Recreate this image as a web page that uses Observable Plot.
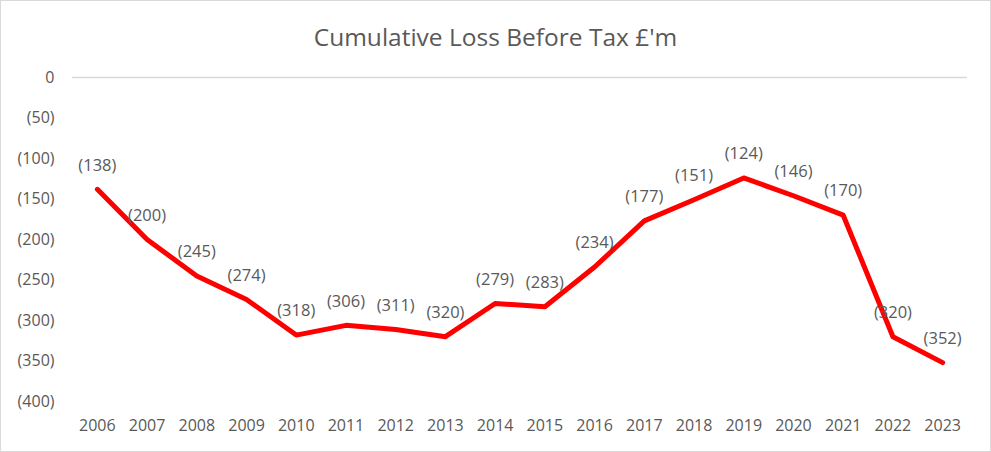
<!DOCTYPE html>
<html>
<head>
<meta charset="utf-8">
<script src="https://cdn.jsdelivr.net/npm/d3@7"></script>
<script src="https://cdn.jsdelivr.net/npm/@observablehq/plot@0.6"></script>
<style>
  html, body { margin: 0; padding: 0; background: #fff; }
  #chart {
    width: 989px; height: 450px;
    border: 1px solid #d9d9d9;
    font-family: "Open Sans", "Noto Sans", sans-serif;
    color: #595959;
    overflow: hidden;
  }
  #title {
    height: 56px; line-height: 72px;
    text-align: center; font-size: 24.5px; color: #595959;
  }
  svg { display: block; }
</style>
</head>
<body>
<div id="chart"><div id="title">Cumulative Loss Before Tax £'m</div></div>
<script>
const years = [2006, 2007, 2008, 2009, 2010, 2011, 2012, 2013, 2014, 2015,
               2016, 2017, 2018, 2019, 2020, 2021, 2022, 2023];
const cumulativeLoss = [138, 200, 245, 274, 318, 306, 311, 320, 279, 283,
                        234, 177, 151, 124, 146, 170, 320, 352];
const yTicks = [0, -50, -100, -150, -200, -250, -300, -350, -400];

const rows = years.map((year, i) => ({year, value: -cumulativeLoss[i]}));
const fmt = v => v === 0 ? "0" : `(${Math.abs(v)})`;

const textColor = "#595959";

const plot = Plot.plot({
  width: 989,
  height: 394,
  marginTop: 20,
  marginBottom: 50,
  marginLeft: 71,
  marginRight: 23,
  style: {fontFamily: "'Open Sans', 'Noto Sans', sans-serif", fontSize: "16px", color: textColor, background: "#fff"},
  // each year sits in the middle of its own category slot
  x: {type: "linear", domain: [years[0] - 0.5, years[years.length - 1] + 0.5]},
  y: {domain: [-400, 0]},
  marks: [
    Plot.ruleY([0], {stroke: "#d9d9d9", strokeWidth: 1.3}),
    Plot.axisY({ticks: yTicks, tickFormat: fmt, tickSize: 0, tickPadding: 18, label: null, fill: textColor, fontSize: 16}),
    Plot.axisX({ticks: years, tickFormat: d => String(d), tickSize: 0, tickPadding: 18, label: null, fill: textColor, fontSize: 16}),
    Plot.line(rows, {x: "year", y: "value", stroke: "#ff0000", strokeWidth: 5, strokeLinejoin: "round", strokeLinecap: "round"}),
    Plot.text(rows, {x: "year", y: "value", text: d => fmt(d.value), dy: -24, fill: textColor, fontSize: 16.5, textAnchor: "middle", lineAnchor: "middle"})
  ]
});
document.getElementById("chart").appendChild(plot);
</script>
</body>
</html>
